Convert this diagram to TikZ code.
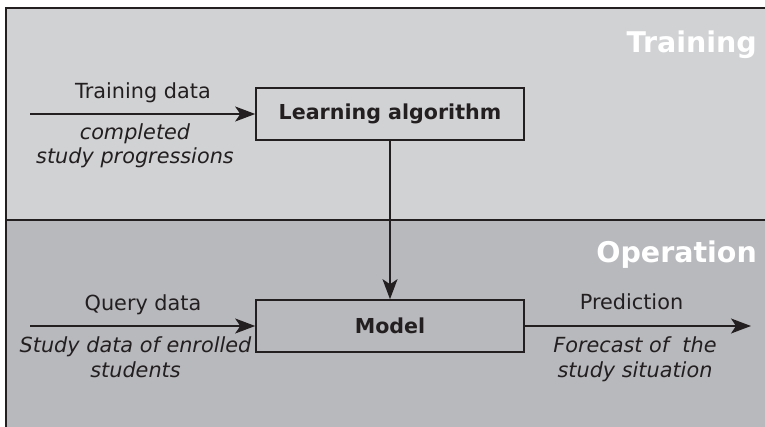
\documentclass[tikz,border=0pt]{standalone}
\usepackage{fontspec}
\setmainfont{DejaVu Sans}
\usetikzlibrary{arrows.meta}
\definecolor{trainbg}{HTML}{D1D2D4}
\definecolor{operbg}{HTML}{B8B9BD}
\definecolor{ink}{HTML}{231F20}
\begin{document}
\begin{tikzpicture}[x=1pt,y=-1pt,
  every node/.style={text=ink, inner sep=0pt},
  lbl/.style={font=\fontsize{20.8}{24}\selectfont, align=center, anchor=base},
  note/.style={font=\fontsize{20.8}{24.5}\selectfont\itshape, align=center, anchor=base},
  stage/.style={font=\fontsize{28.5}{32}\selectfont\bfseries, text=white, anchor=base east},
  procbox/.style={draw=ink, line width=1.6pt, minimum width=268pt, minimum height=52pt,
    font=\fontsize{20.6}{24}\selectfont\bfseries},
  flow/.style={draw=ink, line width=1.6pt, -{Stealth[length=20pt,width=15pt,inset=5pt]}}]
\useasboundingbox (0,0) rectangle (765,427);
% phase panels
\fill[trainbg] (6,8) rectangle (790,220);
\fill[operbg] (6,220) rectangle (790,450);
\draw[ink, line width=1.6pt] (790,8) -- (6,8) -- (6,450);
\draw[ink, line width=1.6pt] (6,220) -- (790,220);
\node[stage] (tr) at (757,53) {Training};
\node[stage] (op) at (757,263) {Operation};
% processing blocks
\node[procbox] (learn) at (390,114) {Learning algorithm};
\node[procbox] (model) at (390,326) {Model};
% flows
\coordinate (tin) at (30,114);
\coordinate (qin) at (30,326);
\coordinate (pout) at (751,326);
\draw[flow] (tin) -- (learn.west);
\draw[flow] (qin) -- (model.west);
\draw[flow] (model.east) -- (pout);
\draw[flow] (learn.south) -- (model.north);
% flow labels (multi-line notes are placed by their last baseline)
\node[lbl] (tdata) at (143,99) {Training data};
\node[note] (tnote) at (135,164) {completed\\study progressions};
\node[lbl] (qdata) at (143,311) {Query data};
\node[note] (qnote) at (135.5,377) {Study data of enrolled\\students};
\node[lbl] (pred) at (631.5,309) {Prediction};
\node[note] (pnote) at (635,377) {Forecast of~ the\\study situation};
\end{tikzpicture}
\end{document}
